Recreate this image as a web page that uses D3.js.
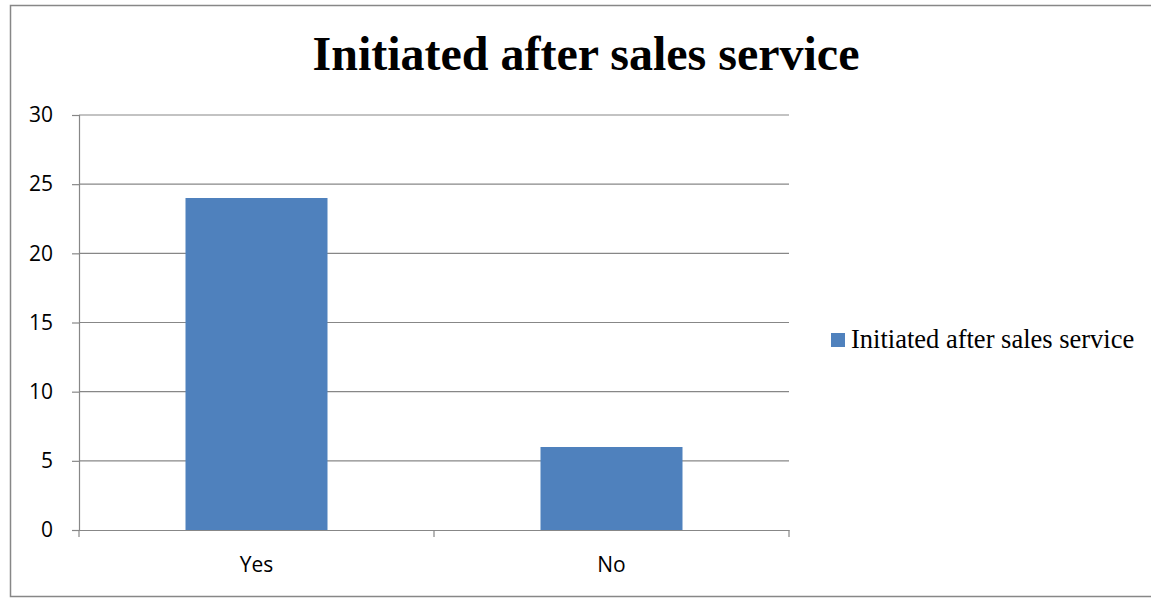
<!DOCTYPE html>
<html><head><meta charset="utf-8">
<script src="https://cdn.jsdelivr.net/npm/d3@7"></script>
<style>body{margin:0;background:#fff}svg{display:block}</style>
</head><body>
<svg id="c" width="1151" height="598"></svg>
<script>
const categories = ["Yes", "No"];
const values = [24, 6];
const yTicks = [0, 5, 10, 15, 20, 25, 30];
const seriesName = "Initiated after sales service";
const title = "Initiated after sales service";

const svg = d3.select("#c");
const m = {left: 79, right: 789, top: 115, bottom: 530};

svg.append("rect").attr("x", 10.5).attr("y", 5.5).attr("width", 1160).attr("height", 591)
  .attr("fill", "#fff").attr("stroke", "#878787").attr("stroke-width", 1.5);

const x = d3.scaleBand().domain(categories).range([m.left, m.right]).paddingInner(0.6).paddingOuter(0.3);
const xb = d3.scaleBand().domain(categories).range([m.left, m.right]);
const y = d3.scaleLinear().domain([0, 30]).range([m.bottom, m.top]);

const sans = "'Open Sans', sans-serif";
const serif = "'Liberation Serif', 'Times New Roman', serif";

// gridlines
svg.append("g").selectAll("line").data(yTicks.filter(d => d > 0)).join("line")
  .attr("x1", m.left).attr("x2", m.right).attr("y1", d => y(d)).attr("y2", d => y(d))
  .attr("stroke", "#878787").attr("stroke-width", 1.2);

// bars
svg.append("g").selectAll("rect").data(values).join("rect")
  .attr("x", (d, i) => x(categories[i])).attr("width", x.bandwidth())
  .attr("y", d => y(d)).attr("height", d => y(0) - y(d))
  .attr("fill", "#4F81BD");

// y axis
const yAxis = svg.append("g").attr("transform", `translate(${m.left},0)`)
  .call(d3.axisLeft(y).tickValues(yTicks).tickSize(7).tickPadding(19).tickFormat(d3.format("d")));
yAxis.attr("font-size", null).attr("font-family", null);
yAxis.select(".domain").attr("stroke", "#878787").attr("stroke-width", 1.2);
yAxis.selectAll(".tick line").attr("stroke", "#878787").attr("stroke-width", 1.2);
yAxis.selectAll("text").style("font-family", sans).style("font-size", "21px").attr("fill", "#000");

// x axis
const xAxis = svg.append("g").attr("transform", `translate(0,${m.bottom})`)
  .call(d3.axisBottom(xb).tickSize(0).tickPadding(27));
xAxis.attr("font-size", null).attr("font-family", null);
xAxis.select(".domain").attr("stroke", "#878787").attr("stroke-width", 1.2);
xAxis.selectAll("text").style("font-family", sans).style("font-size", "21px").attr("fill", "#000");
// category boundary ticks
svg.append("g").selectAll("line").data([m.left, m.left + xb.step(), m.right]).join("line")
  .attr("x1", d => d).attr("x2", d => d).attr("y1", m.bottom).attr("y2", m.bottom + 7)
  .attr("stroke", "#878787").attr("stroke-width", 1.2);

// title
svg.append("text").attr("x", 586).attr("y", 70).attr("text-anchor", "middle")
  .style("font-family", serif).attr("font-weight", "bold")
  .style("font-size", "48px").text(title);

// legend
svg.append("rect").attr("x", 831).attr("y", 333).attr("width", 14).attr("height", 14).attr("fill", "#4F81BD");
svg.append("text").attr("x", 851).attr("y", 348)
  .style("font-family", serif).style("font-size", "26.5px").text(seriesName);
</script>
</body></html>
